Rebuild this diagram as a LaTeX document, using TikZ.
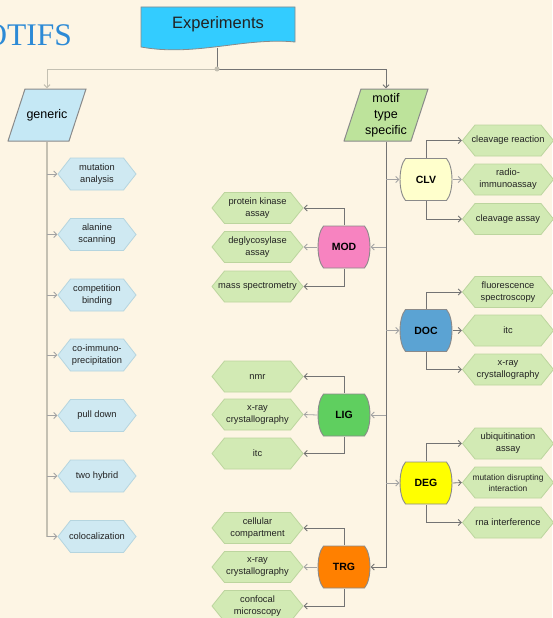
\documentclass[tikz,border=0pt]{standalone}
\usepackage{fontspec}
\setmainfont{Liberation Sans}
\newfontfamily\titlefont{Liberation Serif}
\usetikzlibrary{arrows.meta}
\definecolor{bgc}{HTML}{FDF5E4}
\definecolor{titleblue}{HTML}{2C8AD6}
\definecolor{expc}{HTML}{33CCFF}
\definecolor{genc}{HTML}{C5E8F5}
\definecolor{motc}{HTML}{BDE39B}
\definecolor{bluehex}{HTML}{CFE9F2}
\definecolor{bluehexb}{HTML}{B5D5DF}
\definecolor{greenhex}{HTML}{D2EAB4}
\definecolor{greenhexb}{HTML}{BCD59E}
\definecolor{clvc}{HTML}{FFFFCC}
\definecolor{modc}{HTML}{F783C0}
\definecolor{docc}{HTML}{5BA3D3}
\definecolor{ligc}{HTML}{5FCF5F}
\definecolor{degc}{HTML}{FFFF00}
\definecolor{trgc}{HTML}{FF8000}
\definecolor{darkln}{HTML}{737373}
\definecolor{midln}{HTML}{A3A3A3}
\definecolor{lightln}{HTML}{C4C0B2}
\definecolor{bordc}{HTML}{8A8A8A}
\definecolor{txtc}{HTML}{222222}
\tikzset{
  hexa/.style 2 args={rectangle, minimum width=92pt, minimum height=32pt, inner sep=1pt,
    align=center, text=txtc, font=\fontsize{9.3}{12}\selectfont,
    path picture={\draw[line width=0.8pt, draw=#2, fill=#1]
      ([xshift=0.5pt]path picture bounding box.west) --
      ([xshift=13pt,yshift=-0.5pt]path picture bounding box.north west) --
      ([xshift=-13pt,yshift=-0.5pt]path picture bounding box.north east) --
      ([xshift=-0.5pt]path picture bounding box.east) --
      ([xshift=-13pt,yshift=0.5pt]path picture bounding box.south east) --
      ([xshift=13pt,yshift=0.5pt]path picture bounding box.south west) -- cycle;}},
  ghex/.style={hexa={greenhex}{greenhexb}},
  bhex/.style={hexa={bluehex}{bluehexb}, minimum width=79pt, minimum height=33pt},
  para/.style 2 args={rectangle, minimum width=#2, minimum height=53pt, inner sep=1pt,
    align=center, font=\fontsize{12.5}{16}\selectfont,
    path picture={\draw[line width=1pt, draw=bordc, fill=#1]
      ([xshift=0.5pt,yshift=0.5pt]path picture bounding box.south west) --
      ([xshift=17.5pt,yshift=-0.5pt]path picture bounding box.north west) --
      ([xshift=-0.5pt,yshift=-0.5pt]path picture bounding box.north east) --
      ([xshift=-17.5pt,yshift=0.5pt]path picture bounding box.south east) -- cycle;}},
  barrel/.style={rectangle, minimum width=53pt, minimum height=43pt, inner sep=1pt,
    text=black, font=\fontsize{10.5}{12}\selectfont\bfseries,
    path picture={\draw[line width=0.9pt, draw=bordc, fill=#1]
      ([xshift=6pt,yshift=-0.5pt]path picture bounding box.north west) --
      ([xshift=-6pt,yshift=-0.5pt]path picture bounding box.north east)
      .. controls ([xshift=1.3pt,yshift=-9pt]path picture bounding box.north east)
      and ([xshift=1.3pt,yshift=9pt]path picture bounding box.south east) ..
      ([xshift=-6pt,yshift=0.5pt]path picture bounding box.south east) --
      ([xshift=6pt,yshift=0.5pt]path picture bounding box.south west)
      .. controls ([xshift=-1.3pt,yshift=9pt]path picture bounding box.south west)
      and ([xshift=-1.3pt,yshift=-9pt]path picture bounding box.north west) ..
      cycle;}},
  arr/.style={-{Straight Barb[length=3pt,width=6pt]}},
  dk/.style={draw=darkln, line width=0.8pt},
  md/.style={draw=midln, line width=0.8pt},
}
\begin{document}
\begin{tikzpicture}[x=1pt,y=-1pt]
\fill[bgc] (0,0) rectangle (552,618);
\useasboundingbox (0,0) rectangle (552,618);

\node[anchor=base east, text=titleblue, inner sep=0pt,
  font=\titlefont\fontsize{31.5}{32}\selectfont] (title) at (72,46) {OTIFS};

% Experiments document shape
\draw[draw=bordc, line width=0.8pt, fill=expc] (141,7) -- (295,7) -- (295,42)
  .. controls (245,37) and (195,57) .. (141,47) -- cycle;
\node[font=\fontsize{16.5}{18}\selectfont, text=txtc] (exp) at (218,24.5) {Experiments};
\coordinate (expb) at (217,48);
\coordinate (dot) at (217,69);

\node[para={genc}{79pt}] (generic) at (47,115) {generic};
\node[para={motc}{85pt}] (motif) at (386,115) {motif\\type\\specific};

\draw[dk] (expb) -- (dot);
\draw[draw=lightln, line width=1pt, arr] (dot) -| (generic.north);
\draw[dk, arr] (dot) -| (motif.north);
\fill[lightln] (dot) circle (2.5pt);

% generic column
\node[bhex] (g1) at (97,174) {mutation\\analysis};
\node[bhex] (g2) at (97,234.5) {alanine\\scanning};
\node[bhex] (g3) at (97,295) {competition\\binding};
\node[bhex] (g4) at (97,355) {co-immuno-\\precipitation};
\node[bhex] (g5) at (97,415.5) {pull down};
\node[bhex] (g6) at (97,476) {two hybrid};
\node[bhex] (g7) at (97,536.5) {colocalization};
\draw[draw=lightln, line width=1.6pt] (generic.south) -- (generic.south |- g7.west);
\foreach \g in {g1,g2,g3,g4,g5,g6,g7}
  \draw[md, arr] (generic.south |- \g.west) -- (\g.west);

% barrels
\node[barrel=clvc] (clv) at (426,179.5) {CLV};
\node[barrel=modc] (mod) at (344,247) {MOD};
\node[barrel=docc] (doc) at (426,330.5) {DOC};
\node[barrel=ligc] (lig) at (344,415) {LIG};
\node[barrel=degc] (deg) at (426,483) {DEG};
\node[barrel=trgc] (trg) at (344,567) {TRG};

\draw[dk, arr] (motif.south) |- (trg.east);
\draw[md, arr] (motif.south |- clv.west) -- (clv.west);
\draw[md, arr] (motif.south |- mod.east) -- (mod.east);
\draw[md, arr] (motif.south |- doc.west) -- (doc.west);
\draw[md, arr] (motif.south |- lig.east) -- (lig.east);
\draw[md, arr] (motif.south |- deg.west) -- (deg.west);

% CLV children
\node[ghex] (c1) at (508,140.5) {cleavage reaction};
\node[ghex] (c2) at (508,179.5) {radio-\\immunoassay};
\node[ghex] (c3) at (508,219) {cleavage assay};
\draw[dk, arr] (clv.north) |- (c1.west);
\draw[md, arr] (clv.east) -- (c2.west);
\draw[dk, arr] (clv.south) |- (c3.west);

% MOD children
\node[ghex] (m1) at (257.5,208) {protein kinase\\assay};
\node[ghex] (m2) at (257.5,247) {deglycosylase\\assay};
\node[ghex] (m3) at (257.5,286.5) {mass spectrometry};
\draw[dk, arr] (mod.north) |- (m1.east);
\draw[md, arr] (mod.west) -- (m2.east);
\draw[dk, arr] (mod.south) |- (m3.east);

% DOC children
\node[ghex] (d1) at (508,292) {fluorescence\\spectroscopy};
\node[ghex] (d2) at (508,330.5) {itc};
\node[ghex] (d3) at (508,369.5) {x-ray\\crystallography};
\draw[dk, arr] (doc.north) |- (d1.west);
\draw[dk, arr] (doc.east) -- (d2.west);
\draw[dk, arr] (doc.south) |- (d3.west);

% LIG children
\node[ghex] (l1) at (257.5,376.5) {nmr};
\node[ghex] (l2) at (257.5,414.5) {x-ray\\crystallography};
\node[ghex] (l3) at (257.5,453.5) {itc};
\draw[dk, arr] (lig.north) |- (l1.east);
\draw[md, arr] (lig.west) -- (l2.east);
\draw[dk, arr] (lig.south) |- (l3.east);

% DEG children
\node[ghex] (e1) at (508,443.5) {ubiquitination\\assay};
\node[ghex, font=\fontsize{8.4}{11}\selectfont] (e2) at (508,482.5) {mutation disrupting\\interaction};
\node[ghex] (e3) at (508,522.5) {rna interference};
\draw[dk, arr] (deg.north) |- (e1.west);
\draw[dk, arr] (deg.east) -- (e2.west);
\draw[dk, arr] (deg.south) |- (e3.west);

% TRG children
\node[ghex] (t1) at (257.5,528) {cellular\\compartment};
\node[ghex] (t2) at (257.5,567) {x-ray\\crystallography};
\node[ghex] (t3) at (257.5,606) {confocal\\microscopy};
\draw[dk, arr] (trg.north) |- (t1.east);
\draw[md, arr] (trg.west) -- (t2.east);
\draw[dk, arr] (trg.south) |- (t3.east);
\end{tikzpicture}
\end{document}
